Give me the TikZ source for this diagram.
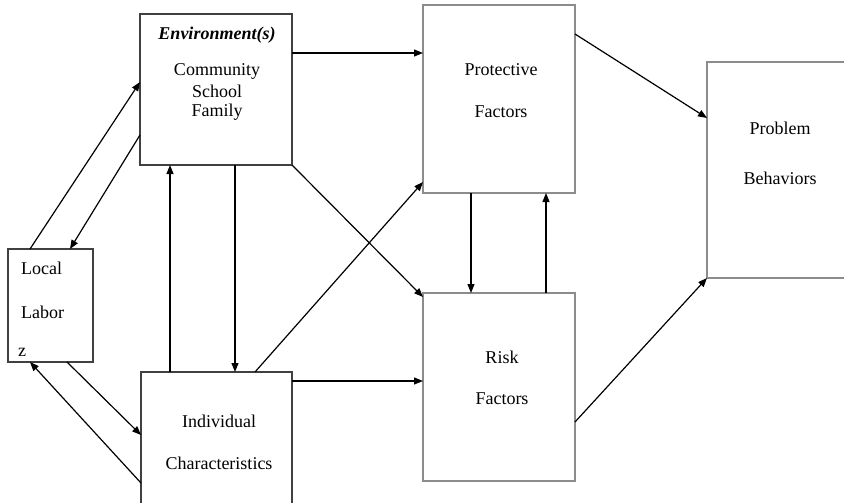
\documentclass[tikz,border=0pt]{standalone}
\usepackage{fontspec}
\setmainfont{Liberation Serif}
\usetikzlibrary{arrows.meta}
\begin{document}
\begin{tikzpicture}[x=1pt,y=-1pt,
  darkbox/.style={draw=black!75, line width=1.2pt, inner sep=0pt, outer sep=0pt, anchor=north west},
  graybox/.style={draw=black!45, line width=1.3pt, inner sep=0pt, outer sep=0pt, anchor=north west},
  lbl/.style={inner sep=0pt, font=\fontsize{18}{20}\selectfont},
  arr/.style={line width=1.2pt, -{Triangle[length=9pt,width=7pt]}},
  plain/.style={line width=1.2pt}]
\useasboundingbox (0,0) rectangle (844,503);
% boxes
\node[darkbox, minimum width=152pt, minimum height=151pt] (env) at (140,14) {};
\node[graybox, minimum width=152pt, minimum height=188pt] (prot) at (423,5) {};
\node[graybox, minimum width=160pt, minimum height=216pt] (prob) at (707,62) {};
\node[darkbox, minimum width=85pt, minimum height=113pt] (local) at (8,249) {};
\node[darkbox, minimum width=151pt, minimum height=150pt] (indiv) at (141,372) {};
\node[graybox, minimum width=152pt, minimum height=188pt] (risk) at (423,293) {};
% texts
\node[lbl, font=\fontsize{18}{20}\selectfont\bfseries\itshape] (tenv) at (217,35) {Environment(s)};
\node[lbl] (tcom) at (217,71) {Community};
\node[lbl] (tsch) at (217,91) {School};
\node[lbl] (tfam) at (217,112) {Family};
\node[lbl] (tprot1) at (501,70) {Protective};
\node[lbl] (tprot2) at (501,112) {Factors};
\node[lbl] (tprob1) at (780,128) {Problem};
\node[lbl] (tprob2) at (780,178) {Behaviors};
\node[lbl, anchor=west] (tloc1) at (21,268) {Local};
\node[lbl, anchor=west] (tloc2) at (21,312) {Labor};
\node[lbl, anchor=west] (tloc3) at (18,352) {z};
\node[lbl] (tind1) at (219,421) {Individual};
\node[lbl] (tind2) at (219,463) {Characteristics};
\node[lbl] (trisk1) at (502,357) {Risk};
\node[lbl] (trisk2) at (502,399) {Factors};
% connectors
\draw[arr] (30,0 |- local.north) -- (env.west |- 0,82);
\draw[arr] (env.west |- 0,135) -- (70,0 |- local.north);
\draw[arr] (67,0 |- local.south) -- (indiv.west |- 0,435);
\draw[arr] (indiv.west |- 0,483) -- (30,0 |- local.south);
\draw[arr] (170,0 |- indiv.north) -- (170,0 |- env.south);
\draw[arr] (235,0 |- env.south) -- (235,0 |- indiv.north);
\draw[arr] (env.east |- 0,53) -- (prot.west |- 0,53);
\draw[arr] (env.south east) -- (risk.west |- 0,297);
\draw[arr] (255,0 |- indiv.north) -- (prot.west |- 0,182);
\draw[arr] (indiv.east |- 0,381) -- (risk.west |- 0,381);
\draw[arr] (471,0 |- prot.south) -- (471,0 |- risk.north);
\draw[arr] (546,0 |- risk.north) -- (546,0 |- prot.south);
\draw[arr] (prot.east |- 0,34) -- (prob.west |- 0,118);
\draw[arr] (risk.east |- 0,422) -- (prob.south west);
\end{tikzpicture}
\end{document}
